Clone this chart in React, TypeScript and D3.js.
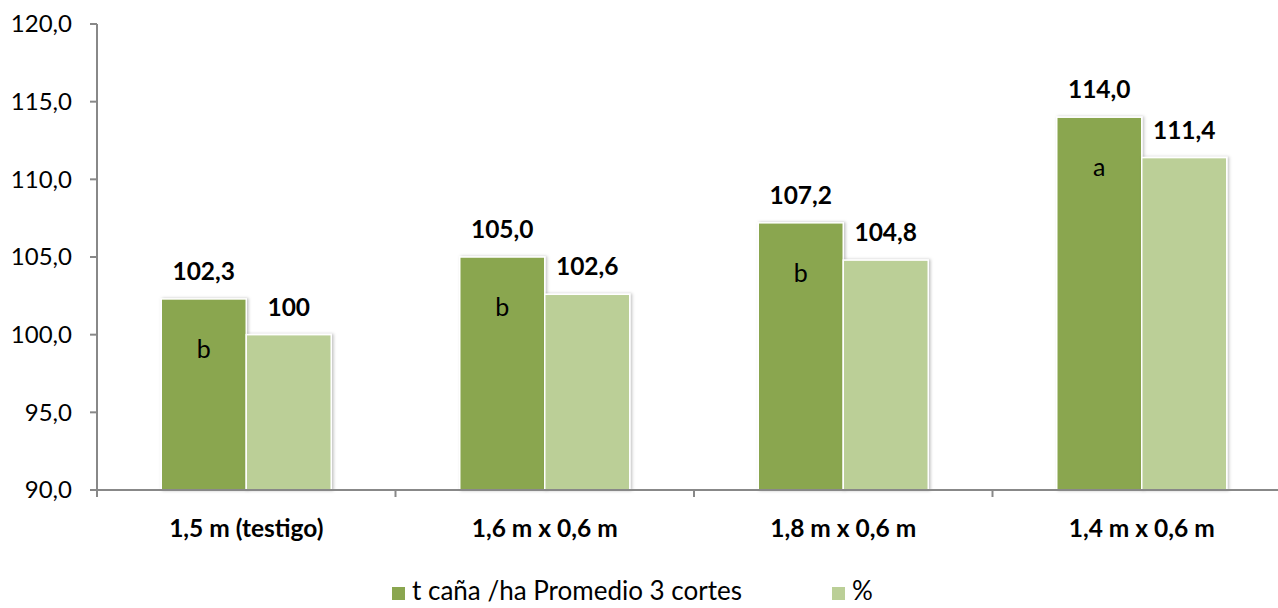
import React from "react";
import * as d3 from "d3";

// Planting distances compared in the trial
const categories = ["1,5 m (testigo)", "1,6 m x 0,6 m", "1,8 m x 0,6 m", "1,4 m x 0,6 m"];
// t caña/ha, average of 3 harvests
const yieldValues = [102.3, 105.0, 107.2, 114.0];
const yieldLabels = ["102,3", "105,0", "107,2", "114,0"];
// Relative yield (%) versus the control
const percentValues = [100, 102.6, 104.8, 111.4];
const percentLabels = ["100", "102,6", "104,8", "111,4"];
// Significance letters
const groupLetters = ["b", "b", "b", "a"];
const yTicks = [90, 95, 100, 105, 110, 115, 120];
const seriesNames = ["t caña /ha Promedio 3 cortes", "%"];

const W = 1278;
const H = 608;
const FONT = "Lato, 'Open Sans', sans-serif";
const DARK = "#8aa64f";
const LIGHT = "#bbcf97";

export default function App() {
  const left = 97;
  const step = 298.5;
  const x = d3
    .scaleBand<string>()
    .domain(categories)
    .range([left, left + step * categories.length])
    .paddingInner(0)
    .paddingOuter(0);
  const y = d3.scaleLinear().domain([90, 120]).range([490, 24]);
  const barW = 85;
  const fmt = (v: number) => d3.format(".1f")(v).replace(".", ",");

  return (
    <svg width={W} height={H} style={{ position: "absolute", left: 0, top: 0, background: "#fff" }}>
      <defs>
        <filter id="barShadow" x="-10%" y="-10%" width="130%" height="130%">
          <feDropShadow dx="1.5" dy="0" stdDeviation="1.5" floodColor="#000" floodOpacity="0.25" />
        </filter>
      </defs>

      {/* bars */}
      {categories.map((c, i) => {
        const cx = (x(c) as number) + x.bandwidth() / 2;
        const yTop = y(yieldValues[i]);
        const pTop = y(percentValues[i]);
        return (
          <g key={c}>
            <rect x={cx - barW} y={yTop} width={barW} height={y(90) - yTop} fill={DARK} stroke="#fff" strokeWidth={1.5} filter="url(#barShadow)" />
            <rect x={cx} y={pTop} width={barW} height={y(90) - pTop} fill={LIGHT} stroke="#fff" strokeWidth={1.5} filter="url(#barShadow)" />
            <text x={cx - barW / 2} y={yTop - 19} textAnchor="middle" fontFamily={FONT} fontWeight="bold" fontSize={24.5}>
              {yieldLabels[i]}
            </text>
            <text x={cx + barW / 2} y={pTop - 19} textAnchor="middle" fontFamily={FONT} fontWeight="bold" fontSize={24.5}>
              {percentLabels[i]}
            </text>
            <text x={cx - barW / 2} y={yTop + 59} textAnchor="middle" fontFamily={FONT} fontSize={25}>
              {groupLetters[i]}
            </text>
          </g>
        );
      })}

      {/* y axis */}
      <line x1={left} x2={left} y1={y(120)} y2={y(90)} stroke="#888" strokeWidth={2} />
      {yTicks.map((t) => (
        <g key={t}>
          <line x1={left - 7} x2={left} y1={y(t)} y2={y(t)} stroke="#888" strokeWidth={2} />
          <text x={72} y={y(t)} dy="0.35em" textAnchor="end" fontFamily={FONT} fontSize={24}>
            {fmt(t)}
          </text>
        </g>
      ))}

      {/* x axis */}
      <line x1={left} x2={left + step * categories.length} y1={y(90)} y2={y(90)} stroke="#888" strokeWidth={2} />
      {d3.range(categories.length + 1).map((k) => (
        <line key={k} x1={left + k * step} x2={left + k * step} y1={y(90)} y2={y(90) + 7} stroke="#888" strokeWidth={2} />
      ))}
      {categories.map((c) => (
        <text key={c} x={(x(c) as number) + x.bandwidth() / 2} y={537} textAnchor="middle" fontFamily={FONT} fontWeight="bold" fontSize={24.5}>
          {c}
        </text>
      ))}

      {/* legend */}
      <rect x={392} y={587} width={13} height={13} fill={DARK} />
      <text x={412} y={600} fontFamily={FONT} fontSize={26}>
        {seriesNames[0]}
      </text>
      <rect x={832} y={587} width={13} height={13} fill={LIGHT} />
      <text x={852} y={600} fontFamily={FONT} fontSize={26}>
        {seriesNames[1]}
      </text>
    </svg>
  );
}
